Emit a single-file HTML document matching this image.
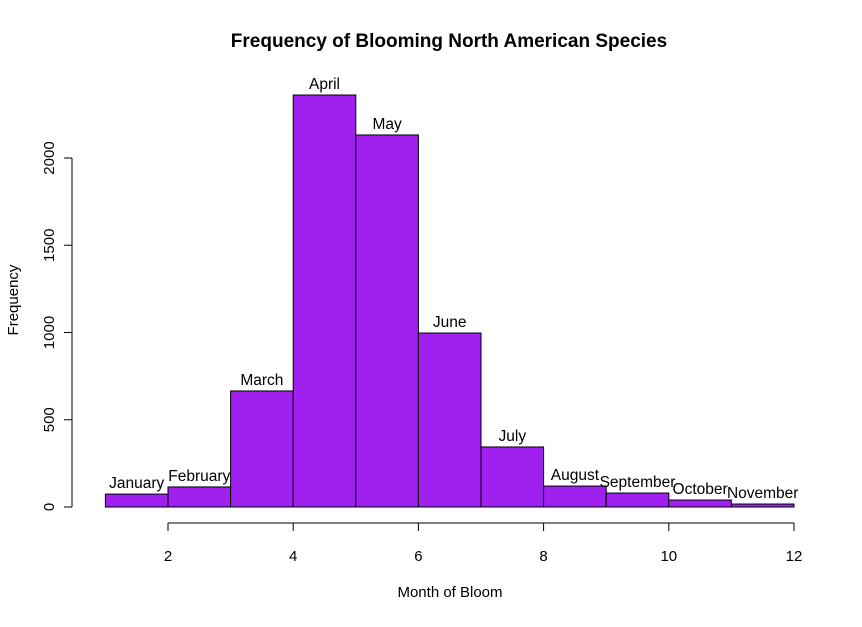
<!DOCTYPE html>
<html><head><meta charset="utf-8"><style>
body{margin:0;background:#fff;}
svg text{font-family:"Liberation Sans",Arial,sans-serif;fill:#000;}
</style></head><body>
<svg id="c" width="862" height="622">
<text x="449" y="47" text-anchor="middle" font-size="19" font-weight="bold">Frequency of Blooming North American Species</text>
<text x="450" y="597" text-anchor="middle" font-size="15">Month of Bloom</text>
<text transform="translate(18,300) rotate(-90)" text-anchor="middle" font-size="15">Frequency</text>
<g id="bars"></g><g id="axes"></g>
</svg>
<script>
const months=["January","February","March","April","May","June","July","August","September","October","November"];
const counts=[74,115,665,2361,2132,997,344,120,80,40,17];
const xTicks=[2,4,6,8,10,12];
const yTicks=[0,500,1000,1500,2000];
const NS="http://www.w3.org/2000/svg";
const xs=v=>105.4+(v-1)*62.6;
const ys=v=>507-v*0.1745;
function mk(t,a,p){const e=document.createElementNS(NS,t);for(const k in a)e.setAttribute(k,a[k]);p.appendChild(e);return e;}
const bars=document.getElementById('bars'),axes=document.getElementById('axes');
counts.forEach((c,i)=>{
 const r=mk('rect',{x:xs(i+1),y:ys(c),width:xs(i+2)-xs(i+1),height:ys(0)-ys(c),fill:'#A020F0',stroke:'#000','stroke-width':1},bars);
 
 
 const t=mk('text',{x:(xs(i+1)+xs(i+2))/2,y:ys(c)-6,'text-anchor':'middle','font-size':15.5},bars);
 t.textContent=months[i];
 
 
});
const xl=mk('line',{x1:xs(xTicks[0]),x2:xs(xTicks[xTicks.length-1]),y1:523,y2:523,stroke:'#000'},axes);


xTicks.forEach(v=>{
 mk('line',{x1:xs(v),x2:xs(v),y1:523,y2:531,stroke:'#000'},axes);
 const t=mk('text',{x:xs(v),y:561,'text-anchor':'middle','font-size':15},axes);
 t.textContent=v;
 
 
});
const yl=mk('line',{x1:72,x2:72,y1:ys(0),y2:ys(yTicks[yTicks.length-1]),stroke:'#000'},axes);


yTicks.forEach(v=>{
 mk('line',{x1:64,x2:72,y1:ys(v),y2:ys(v),stroke:'#000'},axes);
 const t=mk('text',{transform:`translate(54,${ys(v)}) rotate(-90)`,'text-anchor':'middle','font-size':15},axes);
 t.textContent=v;
 
 
});
</script>
</body></html>
